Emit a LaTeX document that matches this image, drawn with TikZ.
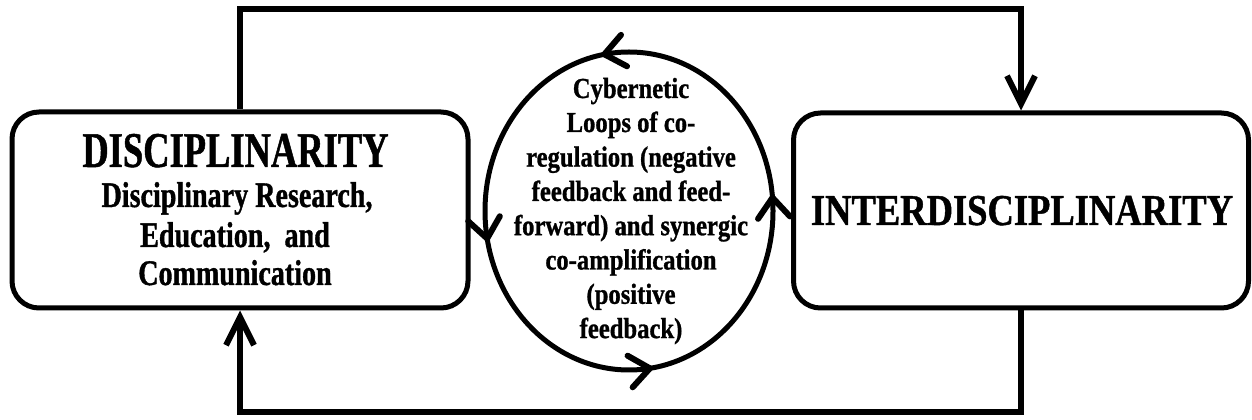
\documentclass[tikz,border=0pt]{standalone}
\usepackage{fontspec}
\setmainfont{Liberation Serif}
\newfontfamily\titlefont{Liberation Serif}[FakeStretch=0.73,FakeBold=1]
\newfontfamily\interfont{Liberation Serif}[FakeStretch=0.83,FakeBold=1]
\newfontfamily\midfont{Liberation Serif}[FakeStretch=0.78,FakeBold=1]
\newfontfamily\loopfont{Liberation Serif}[FakeStretch=0.85,FakeBold=1]
\usetikzlibrary{arrows.meta,decorations.markings}
\begin{document}
\begin{tikzpicture}[x=1pt,y=1pt,
  box/.style={draw, line width=5pt, rounded corners=27pt, inner sep=0pt},
  conn/.style={line width=6pt, -{Straight Barb[length=28pt,width=28pt,line width=6pt]}},
  txt/.style={inner sep=0pt, anchor=base},
  titletxt/.style={txt, font=\titlefont\bfseries\fontsize{50}{52}\selectfont},
  intertxt/.style={txt, font=\interfont\bfseries\fontsize{44}{46}\selectfont},
  midtxt/.style={txt, font=\midfont\bfseries\fontsize{36}{39}\selectfont},
  looptxt/.style={txt, font=\loopfont\bfseries\fontsize{29}{34}\selectfont},
  barb/.style={line width=6pt, line cap=round, line join=miter},
]
\useasboundingbox (0,0) rectangle (1252,420);
% boxes
\node[box, minimum width=456pt, minimum height=196pt] (L) at (240,210) {};
\node[box, minimum width=455pt, minimum height=195pt] (R) at (1021,209.5) {};
% loop ellipse
\draw[line width=5pt, postaction=decorate, decoration={markings,
  mark=at position 0.014 with {\draw[barb] (-20pt,16pt) -- (0pt,0pt) -- (-20pt,-16pt);},
  mark=at position 0.276 with {\draw[barb] (-20pt,16pt) -- (0pt,0pt) -- (-20pt,-16pt);},
  mark=at position 0.529 with {\draw[barb] (-20pt,16pt) -- (0pt,0pt) -- (-20pt,-16pt);},
  mark=at position 0.772 with {\draw[barb] (-20pt,16pt) -- (0pt,0pt) -- (-20pt,-16pt);}}]
  (629,209) ellipse [x radius=144, y radius=159];
% connectors
\coordinate (tl) at (240,411);
\coordinate (tr) at (1021,411);
\coordinate (bl) at (240,8);
\coordinate (br) at (1021,8);
\draw[conn] (L.north) -- (tl) -- (tr) -- (R.north);
\draw[conn] (R.south) -- (br) -- (bl) -- (L.south);
% left box text
\node[titletxt] (l1) at (235.5,253) {DISCIPLINARITY};
\node[midtxt] (l2) at (237,213) {Disciplinary Research,};
\node[midtxt] (l3) at (235,173) {Education,~ and};
\node[midtxt] (l4) at (235,135) {Communication};
% right box text
\node[intertxt] (r1) at (1022,195) {INTERDISCIPLINARITY};
% ellipse text
\node[looptxt] (e1) at (631,322) {Cybernetic};
\node[looptxt] (e2) at (631,288) {Loops of co-};
\node[looptxt] (e3) at (631,253.4) {regulation (negative};
\node[looptxt] (e4) at (631,219.1) {feedback and feed-};
\node[looptxt] (e5) at (631,184.8) {forward) and synergic};
\node[looptxt] (e6) at (631,150.5) {co-amplification};
\node[looptxt] (e7) at (631,116.2) {(positive};
\node[looptxt] (e8) at (631,81.9) {feedback)};
\end{tikzpicture}
\end{document}
